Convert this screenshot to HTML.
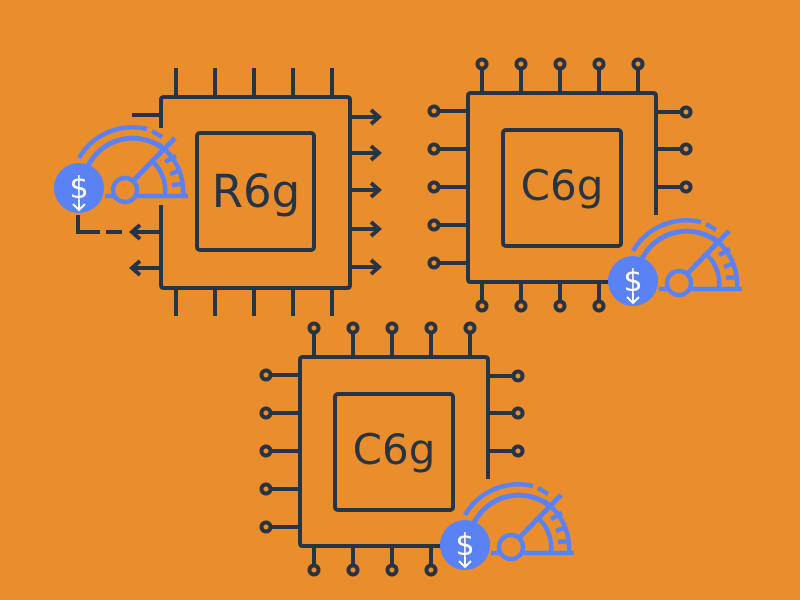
<!DOCTYPE html>
<html><head><meta charset="utf-8"><style>
html,body{margin:0;padding:0;background:#EA8D2C;}
svg{display:block}
text{font-family:"DejaVu Sans","Liberation Sans",sans-serif;}
</style></head><body>
<svg width="800" height="600" viewBox="0 0 800 600" xmlns="http://www.w3.org/2000/svg">
<defs>
<g id="gauge" fill="none" stroke="#5B82F4" stroke-width="4.5" stroke-linecap="butt">
  <path d="M -46 -32 A 62 62 0 0 1 22 -61"/>
  <path d="M 27 -59 L 37 -53"/>
  <path d="M -38 -22 A 50 50 0 0 1 40 -40" stroke-width="5"/>
  <path d="M 33 -46 A 57 57 0 0 1 58 5"/>
  <path d="M 40 -28 L 51 -34 M 45 -16 L 56 -20 M 47 -5 L 58 -6"/>
  <path d="M 26 -30 A 40 40 0 0 1 40 5" />
  <path d="M 7 -8 L 50 -52" stroke-width="5"/>
  <path d="M -20 6 L 63 6"/>
  <circle cx="0" cy="0" r="12" fill="#EA8D2C"/>
  <circle cx="-46" cy="-2" r="25" fill="#5B82F4" stroke="none"/>
  <text x="-46" y="8" font-size="30" fill="#fff" stroke="none" text-anchor="middle">$</text>
  <path d="M -46 10 L -46 20 M -52 14 L -46 20 L -40 14" stroke="#fff" stroke-width="2"/>
</g>
<g id="chipc" fill="none" stroke="#263445" stroke-width="4">
  <path d="M 188 122 L 188 3 Q 188 0 185 0 L 3 0 Q 0 0 0 3 L 0 186 Q 0 189 3 189 L 142 189"/>
  <rect x="35" y="37" width="118" height="116" rx="3"/>
  <g>
    <path d="M14 0 V-24 M53 0 V-24 M92 0 V-24 M131 0 V-24 M170 0 V-24"/>
    <circle cx="14" cy="-29" r="4.5"/><circle cx="53" cy="-29" r="4.5"/><circle cx="92" cy="-29" r="4.5"/><circle cx="131" cy="-29" r="4.5"/><circle cx="170" cy="-29" r="4.5"/>
    <path d="M14 189 V208 M53 189 V208 M92 189 V208 M131 189 V208"/>
    <circle cx="14" cy="213" r="4.5"/><circle cx="53" cy="213" r="4.5"/><circle cx="92" cy="213" r="4.5"/><circle cx="131" cy="213" r="4.5"/>
    <path d="M0 18 H-29 M0 56 H-29 M0 94 H-29 M0 132 H-29 M0 170 H-29"/>
    <circle cx="-34" cy="18" r="4.5"/><circle cx="-34" cy="56" r="4.5"/><circle cx="-34" cy="94" r="4.5"/><circle cx="-34" cy="132" r="4.5"/><circle cx="-34" cy="170" r="4.5"/>
    <path d="M188 19 H213 M188 56 H213 M188 94 H213"/>
    <circle cx="218" cy="19" r="4.5"/><circle cx="218" cy="56" r="4.5"/><circle cx="218" cy="94" r="4.5"/>
  </g>
  <text x="94" y="107" font-size="42" fill="#263445" stroke="none" text-anchor="middle">C6g</text>
</g>
</defs>

<g fill="none" stroke="#263445" stroke-width="4">
  <path d="M 161 128 L 161 100 Q 161 97 164 97 L 347 97 Q 350 97 350 100 L 350 285 Q 350 288 347 288 L 164 288 Q 161 288 161 285 L 161 205"/>
  <rect x="197" y="133" width="117" height="117" rx="3"/>
  <path d="M176 97 V68 M215 97 V68 M254 97 V68 M293 97 V68 M332 97 V68"/>
  <path d="M176 288 V316 M215 288 V316 M254 288 V316 M293 288 V316 M332 288 V316"/>
  <path d="M350 117 H378 M350 153 H378 M350 190 H378 M350 229 H378 M350 267 H378"/>
  <path d="M371 110 L379 117 L371 124 M371 146 L379 153 L371 160 M371 183 L379 190 L371 197 M371 222 L379 229 L371 236 M371 260 L379 267 L371 274"/>
  <path d="M132 115 H161"/>
  <path d="M161 232 H132 M161 268 H132"/>
  <path d="M140 225 L132 232 L140 239 M140 261 L132 268 L140 275"/>
  <path d="M78 215 V232 H100 M106 232 H122"/>
</g>
<text x="256" y="207" font-size="45" fill="#263445" text-anchor="middle">R6g</text>
<use href="#gauge" transform="translate(125,190)"/>

<use href="#chipc" transform="translate(468,93)"/>
<use href="#gauge" transform="translate(679,283)"/>

<use href="#chipc" transform="translate(300,357)"/>
<use href="#gauge" transform="translate(511,547)"/>
</svg>
</body></html>
